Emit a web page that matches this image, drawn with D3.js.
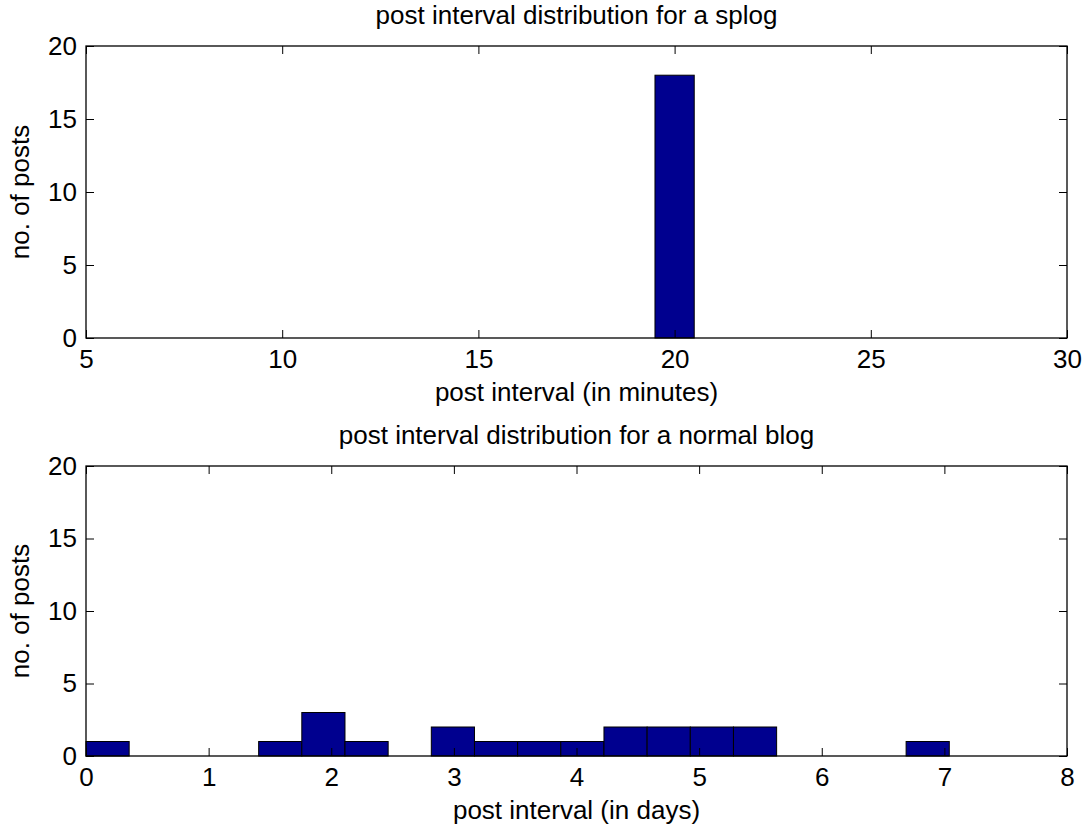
<!DOCTYPE html>
<html>
<head>
<meta charset="utf-8">
<script src="https://cdn.jsdelivr.net/npm/d3@7.9.0/dist/d3.min.js"></script>
<style>
  body { margin: 0; background: #fff; }
  svg text { font-family: "Liberation Sans", Arial, sans-serif; font-size: 26px; fill: #000; }
  .tick line { stroke: #000; stroke-width: 1; }
</style>
</head>
<body>
<svg id="chart" width="1088" height="829"></svg>
<script>
// splog: interval in minutes, bin edges and counts
const splogEdges = [9.5, 10.5, 11.5, 12.5, 13.5, 14.5, 15.5, 16.5, 17.5, 18.5, 19.5,
  20.5, 21.5, 22.5, 23.5, 24.5, 25.5, 26.5, 27.5, 28.5, 29.5];
const splogCounts = [0, 0, 0, 0, 0, 0, 0, 0, 0, 0, 18, 0, 0, 0, 0, 0, 0, 0, 0, 0];
const splogXTicks = [5, 10, 15, 20, 25, 30];

// normal blog: interval in days
const blogEdges = [0, 0.352, 0.704, 1.056, 1.408, 1.76, 2.112, 2.464, 2.816, 3.168, 3.52,
  3.872, 4.224, 4.576, 4.928, 5.28, 5.632, 5.984, 6.336, 6.688, 7.04];
const blogCounts = [1, 0, 0, 0, 1, 3, 1, 0, 2, 1, 1, 1, 2, 2, 2, 2, 0, 0, 0, 1];
const blogXTicks = [0, 1, 2, 3, 4, 5, 6, 7, 8];

const yTicks = [0, 5, 10, 15, 20];

const svg = d3.select("#chart");
const left = 86, right = 1067;

function drawPanel(opts) {
  const { top, bottom, xDomain, xTicks, edges, counts, title, xlabel } = opts;
  let x = d3.scaleLinear().domain(xDomain).range([left, right]);
  let y = d3.scaleLinear().domain([0, 20]).range([bottom, top]);
  let g = svg.append("g");

  let bins = counts.map((c, i) => ({ x0: edges[i], x1: edges[i + 1], count: c }));

  g.selectAll("rect.bar")
    .data(bins)
    .join("rect")
    .attr("class", "bar")
    .attr("x", (d) => x(d.x0))
    .attr("width", (d) => x(d.x1) - x(d.x0))
    .attr("y", (d) => y(d.count))
    .attr("height", (d) => y(0) - y(d.count))
    .attr("fill", "#00008f")
    .attr("stroke", "#000")
    .attr("stroke-width", 1);

  // box
  g.append("rect")
    .attr("x", left).attr("y", top)
    .attr("width", right - left).attr("height", bottom - top)
    .attr("fill", "none").attr("stroke", "#000").attr("stroke-width", 1.3);

  let xb = g.append("g").attr("transform", `translate(0,${bottom})`)
    .call(d3.axisBottom(x).tickValues(xTicks).tickSize(-8).tickSizeOuter(0).tickPadding(12));
  let xt = g.append("g").attr("transform", `translate(0,${top})`)
    .call(d3.axisTop(x).tickValues(xTicks).tickSize(-8).tickSizeOuter(0).tickFormat(""));
  let yl = g.append("g").attr("transform", `translate(${left},0)`)
    .call(d3.axisLeft(y).tickValues(yTicks).tickSize(-8).tickSizeOuter(0).tickPadding(9));
  let yr = g.append("g").attr("transform", `translate(${right},0)`)
    .call(d3.axisRight(y).tickValues(yTicks).tickSize(-8).tickSizeOuter(0).tickFormat(""));
  [xb, xt, yl, yr].forEach((a) => {
    a.select(".domain").remove();
    a.attr("font-size", null).attr("font-family", null);
  });

  g.append("text")
    .attr("x", (left + right) / 2).attr("y", top - 22)
    .attr("text-anchor", "middle").text(title);
  g.append("text")
    .attr("x", (left + right) / 2).attr("y", bottom + 63)
    .attr("text-anchor", "middle").text(xlabel);
  g.append("text")
    .attr("transform", `translate(28.5,${(top + bottom) / 2}) rotate(-90)`)
    .attr("text-anchor", "middle").text("no. of posts");
}

drawPanel({
  top: 46, bottom: 338, xDomain: [5, 30], xTicks: splogXTicks,
  edges: splogEdges, counts: splogCounts,
  title: "post interval distribution for a splog",
  xlabel: "post interval (in minutes)"
});

drawPanel({
  top: 466, bottom: 756, xDomain: [0, 8], xTicks: blogXTicks,
  edges: blogEdges, counts: blogCounts,
  title: "post interval distribution for a normal blog",
  xlabel: "post interval (in days)"
});
</script>
</body>
</html>
